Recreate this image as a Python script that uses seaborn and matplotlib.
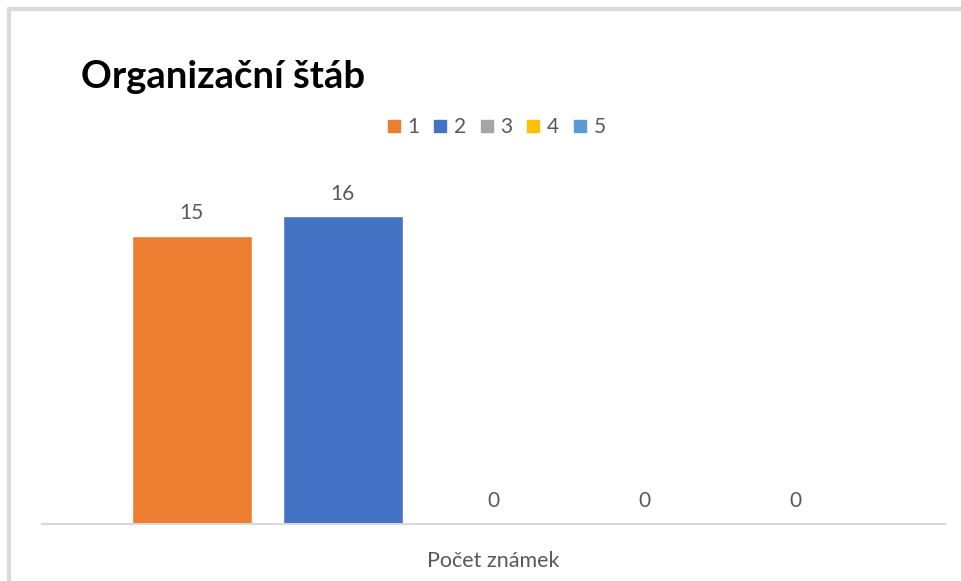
import pandas as pd
import matplotlib
matplotlib.use("Agg")
import matplotlib.pyplot as plt
from matplotlib.lines import Line2D
import seaborn as sns

# data
category = "Počet známek"
grades = ["1", "2", "3", "4", "5"]
counts = [15, 16, 0, 0, 0]
colors = ["#ED7D31", "#4472C4", "#A5A5A5", "#FFC000", "#5B9BD5"]
title = "Organizační štáb"

df = pd.DataFrame({"kategorie": [category] * len(grades), "znamka": grades, "pocet": counts})

sns.set_theme(style="white")
plt.rcParams["font.family"] = ["Lato", "DejaVu Sans"]

fig = plt.figure(figsize=(9.61, 5.81), dpi=100)
W, H = 961, 581
ax = fig.add_axes([42 / W, 1 - 523.5 / H, (945 - 42) / W, (523.5 - 178) / H])

sns.barplot(data=df, x="kategorie", y="pocet", hue="znamka", palette=colors,
            width=0.836, gap=0.205, ax=ax, legend=True, saturation=1)

ax.set_ylim(0, 18)
ax.set_xlim(-0.5, 0.5)
ax.set_xlabel("")
ax.set_ylabel("")
ax.set_yticks([])
ax.tick_params(axis="x", length=0, pad=20, labelsize=15.5, labelcolor="#595959")
for s in ["top", "left", "right"]:
    ax.spines[s].set_visible(False)
ax.spines["bottom"].set_color("#D9D9D9")
ax.spines["bottom"].set_linewidth(1.5)

for cont in ax.containers:
    ax.bar_label(cont, padding=9, fontsize=15, color="#595959")

handles = [Line2D([0], [0], marker="s", linestyle="", markersize=9,
                  markerfacecolor=c, markeredgecolor=c) for c in colors]
ax.get_legend().remove()
fig.legend(handles, grades, loc="center", bbox_to_anchor=(496 / W, 1 - 127 / H),
           ncol=5, frameon=False, fontsize=15, labelcolor="#595959",
           handlelength=0.7, handletextpad=0.3, columnspacing=0.65)

fig.text(81 / W, 1 - 77 / H, title, fontsize=27.5, fontweight="bold",
         color="black", ha="left", va="center")

# light frame at the top and left edges of the screenshot
fig.add_artist(Line2D([9 / W, 9 / W], [0, 1 - 9 / H], color="#DADADA", linewidth=3))
fig.add_artist(Line2D([9 / W, 1], [1 - 9 / H, 1 - 9 / H], color="#DADADA", linewidth=3))

fig.savefig("out.png", dpi=100)
